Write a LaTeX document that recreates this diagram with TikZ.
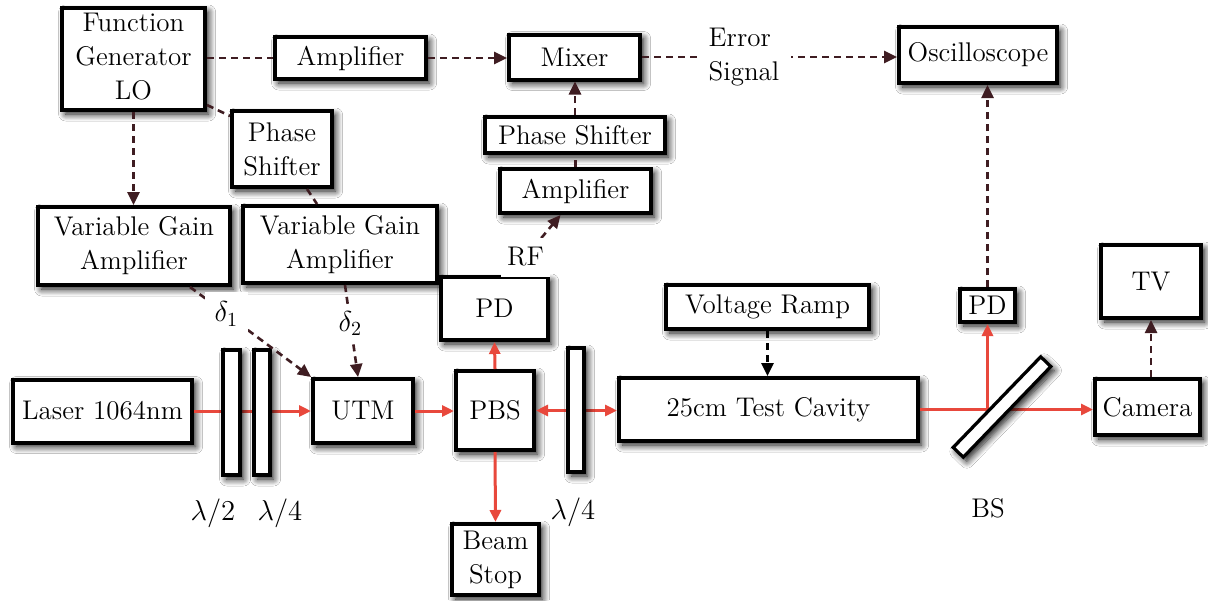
\documentclass[tikz,border=0pt]{standalone}
\usetikzlibrary{arrows.meta,calc,shadows.blur}
\definecolor{sigc}{HTML}{3F1D22}
\definecolor{beamc}{HTML}{E8483C}
\tikzset{
  every node/.style={font=\fontsize{13.5}{17}\selectfont},
  sz/.style 2 args={minimum width=#1*0.5pt, minimum height=#2*0.5pt},
  shad/.style={blur shadow={shadow xshift=1.8pt, shadow yshift=-2pt, shadow blur radius=3.5pt, shadow blur steps=10, shadow opacity=95}},
  box/.style={draw=black, line width=2pt, fill=white, inner sep=0pt, align=center, shad},
  plate/.style={draw=black, line width=1.6pt, fill=white, inner sep=0pt, shad},
  beam/.style={draw=beamc, line width=1.5pt, -{Triangle[length=6pt,width=5.5pt]}},
  sig/.style={draw=sigc, line width=1.3pt, dash pattern=on 3.5pt off 2.5pt},
  sigarrow/.style={sig, -{Triangle[length=6.5pt,width=6pt]}},
  lbl/.style={fill=white, inner sep=3pt},
  greek/.style={font=\fontsize{14.5}{17}\selectfont}
}
\begin{document}
\begin{tikzpicture}[x=0.5pt,y=-0.5pt]
\fill[white] (0,0) rectangle (1208,600);
\useasboundingbox (0,0) rectangle (1208,600);

% boxes
\node[box,sz={143}{102}] (fg) at (133.5,59) {\raisebox{-3pt}{\begin{tabular}{@{}c@{}}Function\\Generator\\LO\end{tabular}}};
\node[box,sz={151}{42}] (amp1) at (350.5,58) {Amplifier};
\node[box,sz={131}{45}] (mixer) at (574.5,57) {Mixer};
\node[box,sz={158}{56}] (osc) at (978,55) {Oscilloscope};
\node[box,sz={100}{76}] (ps1) at (282,149) {Phase\\Shifter};
\node[box,sz={180}{36}] (ps2) at (575,135) {Phase Shifter};
\node[box,sz={151}{44}] (amp2) at (575.5,191) {Amplifier};
\node[box,sz={192}{78}] (vga1) at (134,246) {Variable Gain\\Amplifier};
\node[box,sz={194}{77}] (vga2) at (340,244.5) {Variable Gain\\Amplifier};
\node[box,sz={107}{63}] (pd1) at (494.5,308.5) {PD};
\node[box,sz={203}{44}] (vramp) at (767.5,307) {Voltage Ramp};
\node[box,sz={55}{33}] (pd2) at (987.5,305.5) {PD};
\node[box,sz={100}{73}] (tv) at (1151,281.5) {TV};
\node[box,sz={179}{63}] (laser) at (102.5,411) {Laser 1064nm};
\node[box,sz={100}{64}] (utm) at (363,411) {UTM};
\node[box,sz={78}{79}] (pbs) at (495,410.5) {PBS};
\node[box,sz={299}{63}] (cavity) at (768.5,409.5) {25cm Test Cavity};
\node[box,sz={105}{56}] (camera) at (1147.5,407) {Camera};
\node[box,sz={87}{71}] (beamstop) at (495.5,559.5) {Beam\\Stop};

% beams
\draw[beam] (laser.east) -- (laser.east -| utm.west);
\draw[beam] (utm.east) -- (utm.east -| pbs.west);
\draw[beam,{Triangle[length=6pt,width=5.5pt]}-{Triangle[length=6pt,width=5.5pt]}] (pbs.east) -- (pbs.east -| cavity.west);
\draw[beam] (pbs.north) -- (pd1.south);
\draw[beam] (pbs.south) -- (beamstop.north);
\draw[beam] (cavity.east) -- (cavity.east -| camera.west);
\coordinate (hit) at (pd2.south |- cavity.east);
\draw[beam] (hit) -- (pd2.south);

% plates
\node[plate,sz={17}{125}] (wp1) at (231.5,412.5) {};
\node[plate,sz={16}{125}] (wp2) at (262,412.5) {};
\node[plate,sz={16}{124}] (wp3) at (576,410) {};
\node[plate,sz={126}{14},rotate=46] (bs) at (1002,407) {};

% signals
\draw[sig] (fg.east |- amp1.west) -- (amp1.west);
\draw[sigarrow] (amp1.east) -- (amp1.east -| mixer.west);
\draw[sigarrow] (mixer.east) -- node[pos=0.4,fill=white,inner xsep=6pt,inner ysep=1pt,align=left]{Error\\Signal} (mixer.east -| osc.west);
\draw[sig] ($(fg.south east)+(0,-7)$) -- ($(ps1.north west)+(0,7)$);
\draw[sig] ($(ps1.south)+(25,0)$) -- ($(vga2.north)+(-23,0)$);
\draw[sigarrow] (fg.south) -- (fg.south |- vga1.north);
\draw[sigarrow] ($(vga1.south)+(56,0)$) -- node[pos=0.3,lbl,inner sep=5pt,greek]{$\delta_1$} (utm.north west);
\draw[sigarrow] ($(vga2.south)+(5,0)$) -- node[pos=0.42,lbl,greek]{$\delta_2$} ($(utm.north)+(-5,0)$);
\draw[sigarrow] ($(pd1.north)+(16,0)$) -- node[pos=0.3,lbl,inner ysep=5pt]{RF} ($(amp2.south)+(-15,0)$);
\draw[sig] (amp2.north) -- (amp2.north |- ps2.south);
\draw[sigarrow] (ps2.north) -- (ps2.north |- mixer.south);
\draw[sigarrow] (pd2.north) -- (pd2.north |- osc.south);
\draw[sigarrow] (tv.south |- camera.north) -- (tv.south);
\draw[sig,draw=black,-{Triangle[length=6.5pt,width=6pt]}] (vramp.south) -- (vramp.south |- cavity.north);

% labels
\node[greek] (l1) at (213,513) {$\lambda/2$};
\node[greek] (l2) at (280,513) {$\lambda/4$};
\node[greek] (l3) at (573,512) {$\lambda/4$};
\node (l4) at (988,508) {BS};
\end{tikzpicture}
\end{document}
